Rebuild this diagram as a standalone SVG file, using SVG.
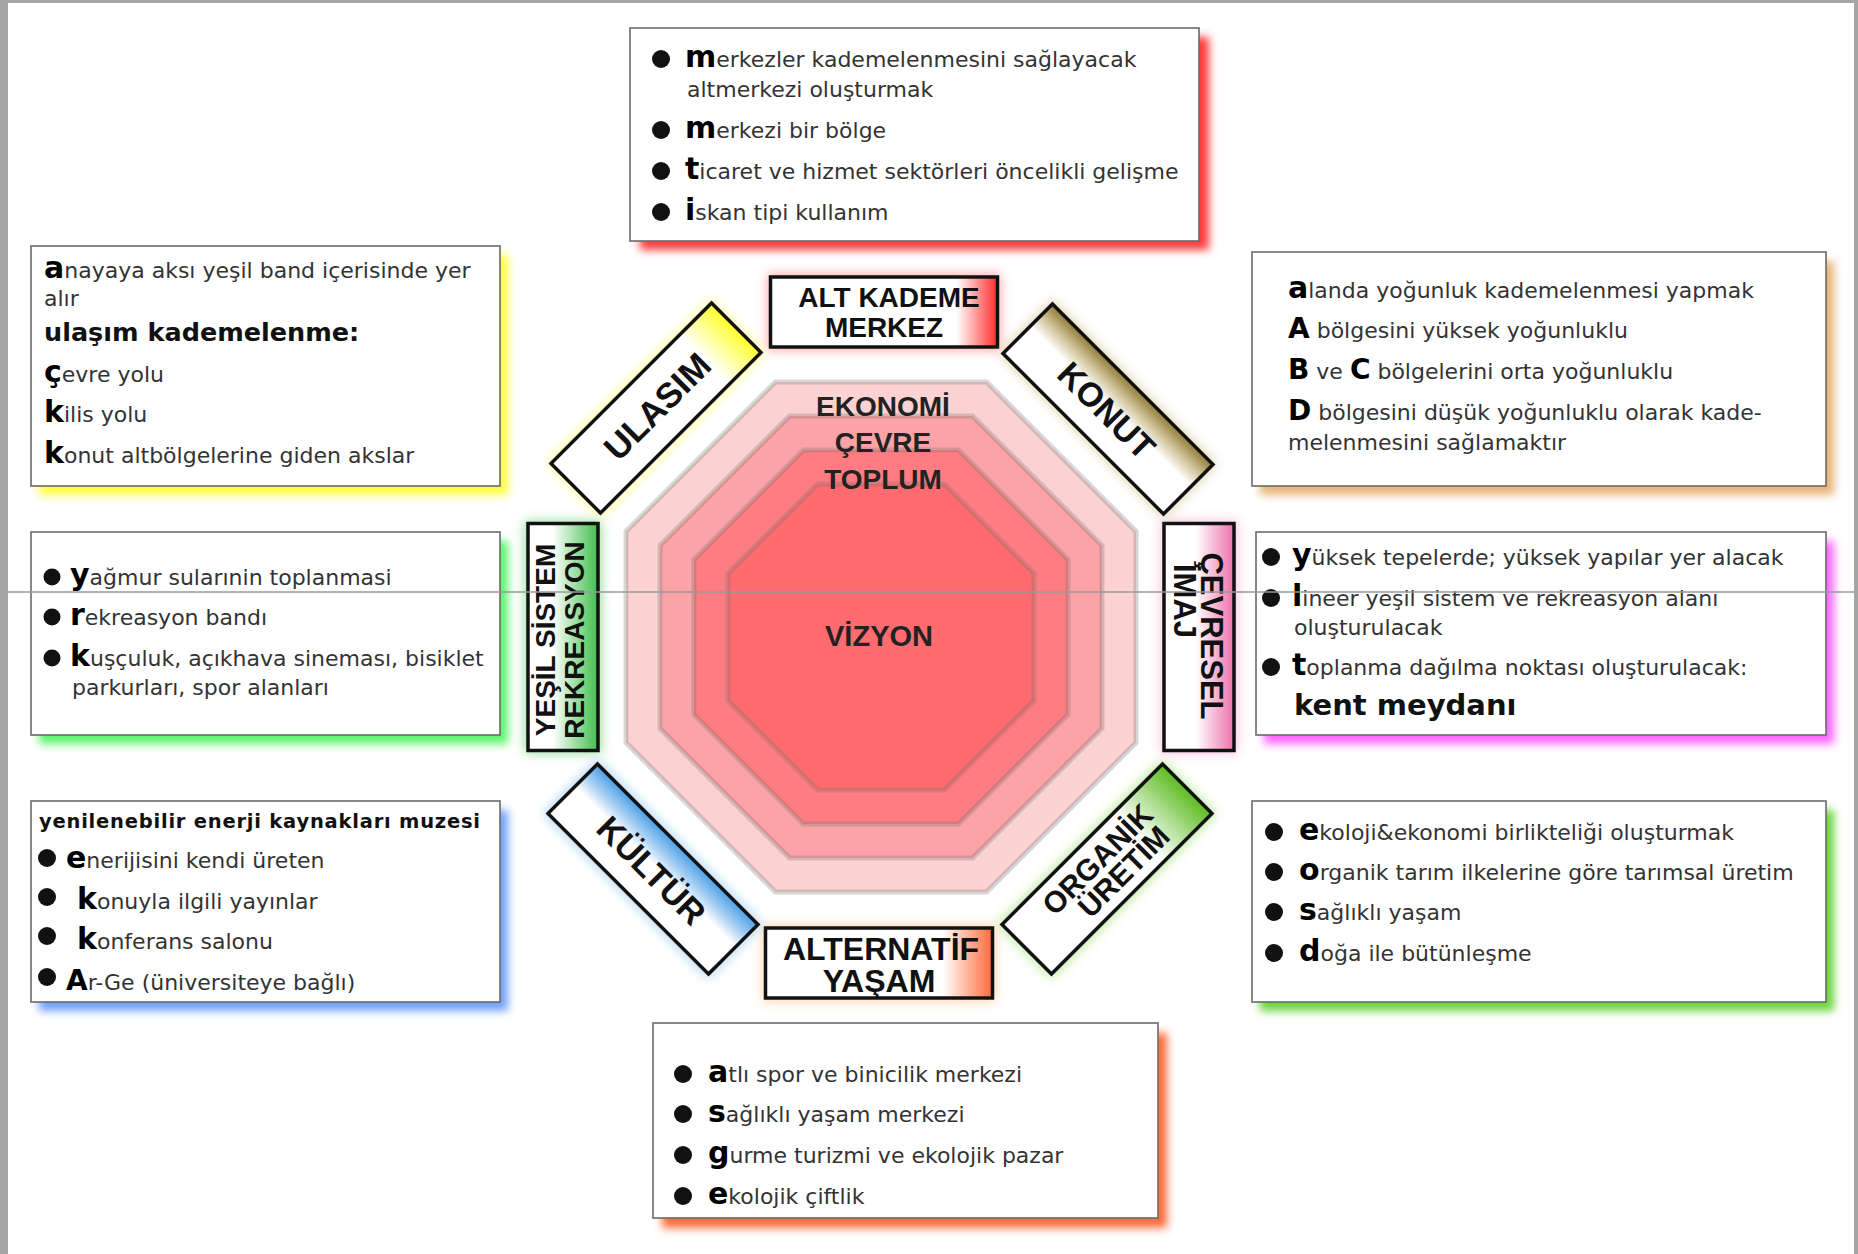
<svg xmlns="http://www.w3.org/2000/svg" width="1858" height="1254" viewBox="0 0 1858 1254">
<defs>
<style>
.t{font-family:"DejaVu Sans","Liberation Sans",sans-serif;font-size:22px;fill:#333}
.b{font-weight:bold;fill:#000;font-size:30px}
.B{font-weight:bold;fill:#000;font-size:28px}
.box{fill:#fff;stroke:#6a6a6a;stroke-width:1.6}
.sh{filter:url(#blur4)}
.glow{filter:url(#blur6);opacity:.55}
.lab{stroke:#111;stroke-width:3.5}
.lt{font-family:"Liberation Sans",Arial,sans-serif;font-weight:bold;fill:#111;text-anchor:middle}
.ct{font-family:"Liberation Sans",Arial,sans-serif;font-weight:bold;fill:#222;text-anchor:middle;font-size:28px}
.oct{stroke:rgba(110,110,110,0.28);stroke-width:5}
</style>
<filter id="blur4" x="-20%" y="-20%" width="140%" height="140%"><feGaussianBlur stdDeviation="4"/></filter>
<filter id="blur6" x="-30%" y="-30%" width="160%" height="160%"><feGaussianBlur stdDeviation="6"/></filter>
<linearGradient id="gAlt" x1="0" y1="0" x2="1" y2="0"><stop offset="0" stop-color="#fff"/><stop offset="0.82" stop-color="#fff"/><stop offset="1" stop-color="#ff2a2a"/></linearGradient>
<linearGradient id="gAy" x1="0" y1="0" x2="1" y2="0"><stop offset="0" stop-color="#fff"/><stop offset="0.78" stop-color="#fff"/><stop offset="1" stop-color="#ff6a3a"/></linearGradient>
<linearGradient id="gYes" x1="0" y1="0" x2="0" y2="1"><stop offset="0" stop-color="#fff"/><stop offset="0.35" stop-color="#fff"/><stop offset="1" stop-color="#3fbf4a"/></linearGradient>
<linearGradient id="gCev" x1="0" y1="0" x2="0" y2="1"><stop offset="0" stop-color="#ee70aa"/><stop offset="0.55" stop-color="#fff"/><stop offset="1" stop-color="#fff"/></linearGradient>
<linearGradient id="gUla" x1="0" y1="0" x2="1" y2="0"><stop offset="0" stop-color="#fff"/><stop offset="0.8" stop-color="#fff"/><stop offset="1" stop-color="#ffff2a"/></linearGradient>
<linearGradient id="gKon" x1="0" y1="0" x2="0" y2="1"><stop offset="0" stop-color="#8f7a38"/><stop offset="0.22" stop-color="#cfc094"/><stop offset="0.45" stop-color="#fff"/><stop offset="1" stop-color="#fff"/></linearGradient>
<linearGradient id="gKul" x1="0" y1="0" x2="0" y2="1"><stop offset="0" stop-color="#4a9ee8"/><stop offset="0.25" stop-color="#a8d0f4"/><stop offset="0.45" stop-color="#fff"/><stop offset="1" stop-color="#fff"/></linearGradient>
<linearGradient id="gOrg" x1="0" y1="0" x2="1" y2="0"><stop offset="0" stop-color="#fff"/><stop offset="0.7" stop-color="#fff"/><stop offset="1" stop-color="#5cbc20"/></linearGradient>
</defs>

<rect x="0" y="0" width="1858" height="1254" fill="#fff"/>
<rect x="0" y="0" width="8" height="1254" fill="#a6a6a6"/>
<rect x="0" y="0" width="1858" height="3" fill="#a6a6a6"/>
<rect x="1854" y="0" width="4" height="1254" fill="#a6a6a6"/>

<!-- center octagons -->
<g id="vizyon">
<polygon class="oct" fill="#fdd2d3" points="986.6,382 1136,531.4 1136,742.6 986.6,892 775.4,892 626,742.6 626,531.4 775.4,382"/>
<polygon class="oct" fill="#fca3a7" points="972.5,416 1102,545.5 1102,728.5 972.5,858 789.5,858 660,728.5 660,545.5 789.5,416"/>
<polygon class="oct" fill="#ff7d82" points="958.5,450 1068,559.5 1068,714.5 958.5,824 803.5,824 694,714.5 694,559.5 803.5,450"/>
<polygon class="oct" fill="#ff6b6f" points="944.4,484 1034,573.4 1034,700.6 944.4,790 817.6,790 728,700.6 728,573.4 817.6,484"/>
<text class="ct" x="883" y="416">EKONOMİ</text>
<text class="ct" x="883" y="452">ÇEVRE</text>
<text class="ct" x="883" y="489">TOPLUM</text>
<text class="ct" x="879" y="646" style="font-size:29px">VİZYON</text>
</g>

<!-- text boxes -->
<g id="box-altkademe">
<rect class="sh" x="640" y="37" width="569" height="213" fill="#ff3b3b"/>
<rect class="box" x="630" y="28" width="569" height="213"/>
<g fill="#111"><circle cx="661" cy="59" r="9"/><circle cx="661" cy="130" r="9"/><circle cx="661" cy="171" r="9"/><circle cx="661" cy="212" r="9"/></g>
<text class="t" x="685" y="67"><tspan class="b">m</tspan>erkezler kademelenmesini sağlayacak</text>
<text class="t" x="687" y="97">altmerkezi oluşturmak</text>
<text class="t" x="685" y="138"><tspan class="b">m</tspan>erkezi bir bölge</text>
<text class="t" x="685" y="179"><tspan class="b">t</tspan>icaret ve hizmet sektörleri öncelikli gelişme</text>
<text class="t" x="685" y="220"><tspan class="b">i</tspan>skan tipi kullanım</text>
</g>

<g id="box-ulasim">
<rect class="sh" x="39" y="255" width="469" height="240" fill="#ffff3a"/>
<rect class="box" x="31" y="246" width="469" height="240"/>
<text class="t" x="44" y="278"><tspan class="b">a</tspan>nayaya aksı yeşil band içerisinde yer</text>
<text class="t" x="44" y="306">alır</text>
<text class="t" x="44" y="341" style="font-weight:bold;font-size:25.5px;fill:#111">ulaşım kademelenme:</text>
<text class="t" x="44" y="382"><tspan class="b">ç</tspan>evre yolu</text>
<text class="t" x="44" y="422"><tspan class="b">k</tspan>ilis yolu</text>
<text class="t" x="44" y="463"><tspan class="b">k</tspan>onut altbölgelerine giden akslar</text>
</g>

<g id="box-konut">
<rect class="sh" x="1260" y="261" width="574" height="234" fill="#e8b47a"/>
<rect class="box" x="1252" y="252" width="574" height="234"/>
<text class="t" x="1288" y="298"><tspan class="b">a</tspan>landa yoğunluk kademelenmesi yapmak</text>
<text class="t" x="1288" y="338"><tspan class="B">A</tspan> bölgesini yüksek yoğunluklu</text>
<text class="t" x="1288" y="379"><tspan class="B">B</tspan> ve <tspan class="B">C</tspan> bölgelerini orta yoğunluklu</text>
<text class="t" x="1288" y="420"><tspan class="B">D</tspan> bölgesini düşük yoğunluklu olarak kade-</text>
<text class="t" x="1288" y="450">melenmesini sağlamaktır</text>
</g>

<g id="box-yesil">
<rect class="sh" x="39" y="541" width="469" height="203" fill="#5cf56c"/>
<rect class="box" x="31" y="532" width="469" height="203"/>
<g fill="#111"><circle cx="52" cy="577" r="8.5"/><circle cx="52" cy="617" r="8.5"/><circle cx="52" cy="658" r="8.5"/></g>
<text class="t" x="70" y="585"><tspan class="b">y</tspan>ağmur sularınin toplanmasi</text>
<text class="t" x="70" y="625"><tspan class="b">r</tspan>ekreasyon bandı</text>
<text class="t" x="70" y="666"><tspan class="b">k</tspan>uşçuluk, açıkhava sineması, bisiklet</text>
<text class="t" x="72" y="695">parkurları, spor alanları</text>
</g>

<g id="box-cevresel">
<rect class="sh" x="1264" y="541" width="570" height="203" fill="#ff66ff"/>
<rect class="box" x="1256" y="532" width="570" height="203"/>
<g fill="#111"><circle cx="1271" cy="557" r="9"/><circle cx="1271" cy="598" r="9"/><circle cx="1271" cy="667" r="9"/></g>
<text class="t" x="1292" y="565"><tspan class="b">y</tspan>üksek tepelerde; yüksek yapılar yer alacak</text>
<text class="t" x="1292" y="606"><tspan class="b">l</tspan>ineer yeşil sistem ve rekreasyon alanı</text>
<text class="t" x="1294" y="635">oluşturulacak</text>
<text class="t" x="1292" y="675"><tspan class="b">t</tspan>oplanma dağılma noktası oluşturulacak:</text>
<text class="t" x="1294" y="715" style="font-weight:bold;font-size:29px;fill:#111">kent meydanı</text>
</g>

<g id="box-kultur">
<rect class="sh" x="39" y="810" width="469" height="201" fill="#6fa0f8"/>
<rect class="box" x="31" y="801" width="469" height="201"/>
<text class="t" x="39" y="828" style="font-weight:bold;font-size:19.5px;fill:#111" textLength="441">yenilenebilir enerji kaynakları  muzesi</text>
<g fill="#111"><circle cx="47" cy="858" r="9"/><circle cx="47" cy="897" r="9"/><circle cx="47" cy="936" r="9"/><circle cx="47" cy="977" r="9"/></g>
<text class="t" x="66" y="868"><tspan class="b">e</tspan>nerijisini kendi üreten</text>
<text class="t" x="77" y="909"><tspan class="b">k</tspan>onuyla ilgili yayınlar</text>
<text class="t" x="77" y="949"><tspan class="b">k</tspan>onferans salonu</text>
<text class="t" x="66" y="990"><tspan class="B">A</tspan>r-Ge (üniversiteye bağlı)</text>
</g>

<g id="box-organik">
<rect class="sh" x="1260" y="810" width="574" height="201" fill="#6ad43a"/>
<rect class="box" x="1252" y="801" width="574" height="201"/>
<g fill="#111"><circle cx="1274" cy="832" r="9"/><circle cx="1274" cy="872" r="9"/><circle cx="1274" cy="912" r="9"/><circle cx="1274" cy="953" r="9"/></g>
<text class="t" x="1299" y="840"><tspan class="b">e</tspan>koloji&amp;ekonomi birlikteliği oluşturmak</text>
<text class="t" x="1299" y="880"><tspan class="b">o</tspan>rganik tarım ilkelerine göre tarımsal üretim</text>
<text class="t" x="1299" y="920"><tspan class="b">s</tspan>ağlıklı yaşam</text>
<text class="t" x="1299" y="961"><tspan class="b">d</tspan>oğa ile bütünleşme</text>
</g>

<g id="box-alternatif">
<rect class="sh" x="662" y="1033" width="505" height="195" fill="#ff6a3a"/>
<rect class="box" x="653" y="1023" width="505" height="195"/>
<g fill="#111"><circle cx="683" cy="1074" r="9"/><circle cx="683" cy="1114" r="9"/><circle cx="683" cy="1155" r="9"/><circle cx="683" cy="1196" r="9"/></g>
<text class="t" x="708" y="1082"><tspan class="b">a</tspan>tlı spor ve binicilik merkezi</text>
<text class="t" x="708" y="1122"><tspan class="b">s</tspan>ağlıklı yaşam merkezi</text>
<text class="t" x="708" y="1163"><tspan class="b">g</tspan>urme turizmi ve ekolojik pazar</text>
<text class="t" x="708" y="1204"><tspan class="b">e</tspan>kolojik çiftlik</text>
</g>

<!-- ring labels -->
<g id="lbl-altkademe" transform="translate(884,312)">
<rect class="glow" x="-116" y="-38" width="232" height="76" fill="#ff5a5a"/>
<rect class="lab" x="-113.5" y="-35" width="227" height="70" fill="url(#gAlt)"/>
<text class="lt" x="5" y="-5" style="font-size:28px">ALT KADEME</text>
<text class="lt" x="0" y="25" style="font-size:28px">MERKEZ</text>
</g>
<g id="lbl-alternatif" transform="translate(879,963)">
<rect class="glow" x="-116" y="-38" width="232" height="76" fill="#ffb060"/>
<rect class="lab" x="-113.5" y="-35" width="227" height="70" fill="url(#gAy)"/>
<text class="lt" x="2" y="-3" style="font-size:32px">ALTERNATİF</text>
<text class="lt" x="0" y="29" style="font-size:32px">YAŞAM</text>
</g>
<g id="lbl-yesil" transform="translate(563,637) rotate(-90)">
<rect class="glow" x="-116" y="-38" width="232" height="76" fill="#3fbf4a"/>
<rect class="lab" x="-113.5" y="-35" width="227" height="70" fill="url(#gYes)"/>
<text class="lt" x="-3" y="-8" style="font-size:28px">YEŞİL SİSTEM</text>
<text class="lt" x="-3" y="21" style="font-size:28px">REKREASYON</text>
</g>
<g id="lbl-cevresel" transform="translate(1199,637) rotate(90)">
<rect class="glow" x="-116" y="-38" width="232" height="76" fill="#f090c0"/>
<rect class="lab" x="-113.5" y="-35" width="227" height="70" fill="url(#gCev)"/>
<text class="lt" x="-1" y="-2" style="font-size:31px">ÇEVRESEL</text>
<text class="lt" x="-36" y="25" style="font-size:31px">İMAJ</text>
</g>
<g id="lbl-ulasim" transform="translate(656,408) rotate(-45)">
<rect class="glow" x="-116" y="-38" width="232" height="76" fill="#ffff50"/>
<rect class="lab" x="-113.5" y="-35" width="227" height="70" fill="url(#gUla)"/>
<text class="lt" x="2" y="12" style="font-size:35px">ULASIM</text>
</g>
<g id="lbl-konut" transform="translate(1108,409) rotate(45)">
<rect class="glow" x="-116" y="-38" width="232" height="76" fill="#c8b070"/>
<rect class="lab" x="-113.5" y="-35" width="227" height="70" fill="url(#gKon)"/>
<text class="lt" x="0" y="14" style="font-size:34px">KONUT</text>
</g>
<g id="lbl-kultur" transform="translate(653,869) rotate(45)">
<rect class="glow" x="-116" y="-38" width="232" height="76" fill="#6ab0f0"/>
<rect class="lab" x="-113.5" y="-35" width="227" height="70" fill="url(#gKul)"/>
<text class="lt" x="0" y="14" style="font-size:34px">KÜLTÜR</text>
</g>
<g id="lbl-organik" transform="translate(1107,869) rotate(-45)">
<rect class="glow" x="-116" y="-38" width="232" height="76" fill="#80d040"/>
<rect class="lab" x="-113.5" y="-35" width="227" height="70" fill="url(#gOrg)"/>
<text class="lt" x="0" y="-3" style="font-size:30px">ORGANİK</text>
<text class="lt" x="10" y="24" style="font-size:30px">ÜRETİM</text>
</g>

<g id="connectors"></g>

<line x1="8" y1="592" x2="1854" y2="592" stroke="#9a9a9a" stroke-width="1.5"/>
</svg>
